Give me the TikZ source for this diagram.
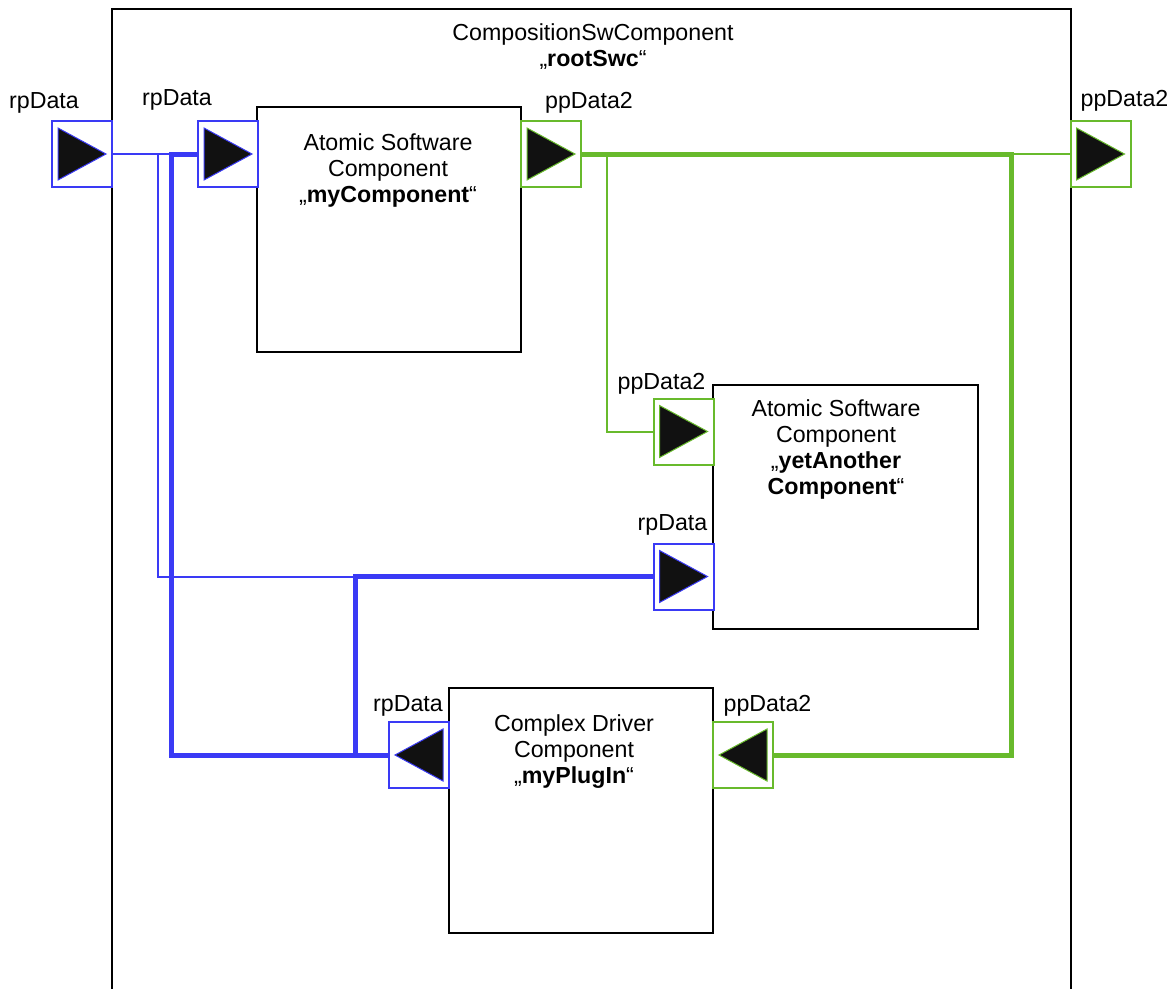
\documentclass[tikz,border=0pt]{standalone}
\usepackage{fontspec}
\setmainfont{Liberation Sans}
\usetikzlibrary{calc, positioning}
\definecolor{portblue}{RGB}{58,58,245}
\definecolor{portgreen}{RGB}{104,186,44}
\definecolor{tridark}{RGB}{17,17,17}

\begin{document}
\begin{tikzpicture}[x=0.75pt, y=-0.75pt, font=\fontsize{17.4}{19.5}\selectfont,
    port/.style={draw, line width=1.5pt, fill=white, minimum width=45pt, minimum height=49.5pt, inner sep=0pt},
    bport/.style={port, draw=portblue},
    gport/.style={port, draw=portgreen},
    comp/.style={draw, line width=1.5pt, fill=white, inner sep=0pt},
    ctext/.style={align=center, anchor=north, inner sep=0pt},
    plbl/.style={anchor=base, inner sep=0pt},
    deleg/.style={line width=1.5pt},
    assem/.style={line width=3.75pt}]
    \useasboundingbox (0,0) rectangle (1175,989);
    % Composition frame (runs off the bottom)
    \draw[line width=1.5pt] (112,989) -- (112,9) -- (1071,9) -- (1071,989);
    \node[ctext] (root) at (593,23) {CompositionSwComponent\\„\textbf{rootSwc}“};
    % Components
    \node[comp, minimum width=198pt, minimum height=183.75pt] (myc) at (389,229.5) {};
    \node[ctext] (myct) at (388,133) {Atomic Software\\Component\\„\textbf{myComponent}“};
    \node[comp, minimum width=198.75pt, minimum height=183pt] (yac) at (845.5,507) {};
    \node[ctext] (yact) at (836,399) {Atomic Software\\Component\\„\textbf{yetAnother}\\\textbf{Component}“};
    \node[comp, minimum width=198pt, minimum height=183.75pt] (plg) at (581,810.5) {};
    \node[ctext] (plgt) at (574,714) {Complex Driver\\Component\\„\textbf{myPlugIn}“};
    % Ports
    \node[bport] (orp) at (82,154) {};
    \node[bport] (mrp) at (228,154) {};
    \node[gport] (mpp) at (551,154) {};
    \node[gport] (opp) at (1100.5,154) {};
    \node[gport] (ypp) at (683.5,431.5) {};
    \node[bport] (yrp) at (683.5,576.5) {};
    \node[bport] (drp) at (419,755) {};
    \node[gport] (dpp) at (743,755) {};
    % Port triangles
    \foreach \p/\c in {orp/portblue, mrp/portblue, mpp/portgreen, opp/portgreen, ypp/portgreen, yrp/portblue}
      \filldraw[fill=tridark, draw=\c, line width=0.75pt]
        ($(\p.west)+(7,-26)$) -- ($(\p.west)+(7,26)$) -- ($(\p.east)+(-7,0)$) -- cycle;
    \foreach \p/\c in {drp/portblue, dpp/portgreen}
      \filldraw[fill=tridark, draw=\c, line width=0.75pt]
        ($(\p.east)+(-7,-26)$) -- ($(\p.east)+(-7,26)$) -- ($(\p.west)+(7,0)$) -- cycle;
    % Port labels
    \node[plbl] (orpl) at (44,108) {rpData};
    \node[plbl] (mrpl) at (177,105) {rpData};
    \node[plbl] (mppl) at (589,108) {ppData2};
    \node[plbl] (oppl) at (1124.5,106) {ppData2};
    \node[plbl] (yppl) at (661.5,389) {ppData2};
    \node[plbl] (yrpl) at (672.5,530) {rpData};
    \node[plbl] (drpl) at (408,711) {rpData};
    \node[plbl] (dppl) at (767.5,711) {ppData2};
    % Bus coordinates
    \coordinate (busT) at (158,0);
    \coordinate (busL) at (171,0);
    \coordinate (busM) at (355,0);
    \coordinate (busG) at (607,0);
    \coordinate (busR) at (1011,0);
    % Delegation connectors
    \draw[deleg, portblue] (orp.east) -- (mrp.west);
    \draw[deleg, portblue] (orp.east) -- (orp.east -| busT) |- (yrp.west);
    \draw[deleg, portgreen] (mpp.east) -- (opp.west);
    \draw[deleg, portgreen] (mpp.east -| busG) |- (ypp.west);
    % Assembly connectors
    \draw[assem, portblue] (drp.west) -- (drp.west -| busL) |- (mrp.west);
    \draw[assem, portblue] (drp.west) -- (drp.west -| busM) |- (yrp.west);
    \draw[assem, portgreen] (mpp.east) -- (mpp.east -| busR) |- (dpp.east);
  \end{tikzpicture}
\end{document}
